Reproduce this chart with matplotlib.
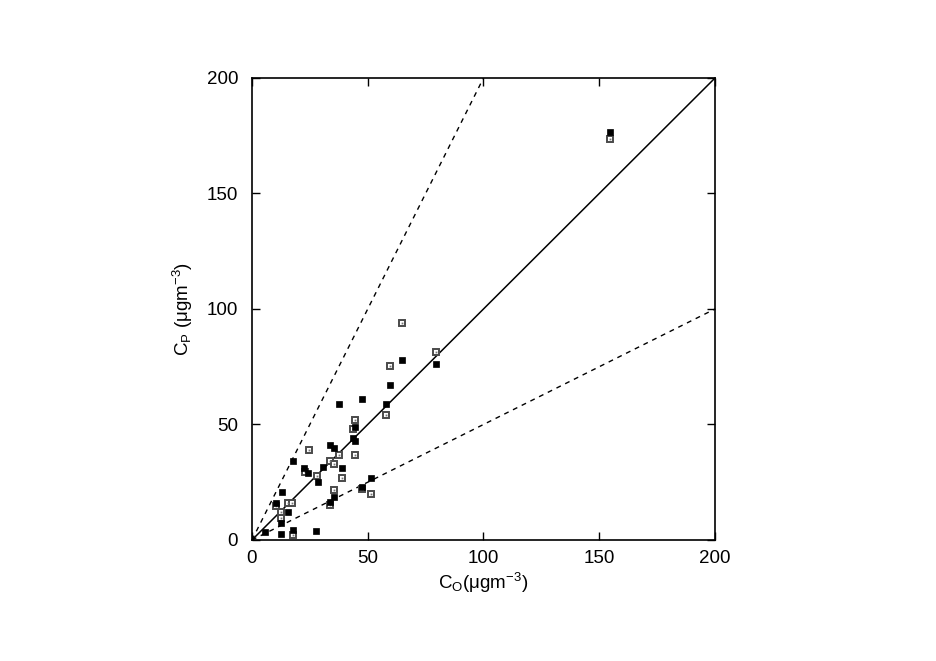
import numpy as np
import matplotlib
matplotlib.use("Agg")
import matplotlib.pyplot as plt

plt.rcParams['font.family'] = ['Liberation Sans', 'DejaVu Sans']
plt.rcParams['mathtext.fontset'] = 'custom'
plt.rcParams['mathtext.rm'] = 'Liberation Sans'
plt.rcParams['mathtext.it'] = 'Liberation Sans:italic'

# filled squares (observed vs predicted, set 1)
co_filled = [5.6, 12.5, 17.6, 27.6, 12.6, 15.5, 10.5, 12.8, 17.6, 22.5,
             24.4, 28.7, 30.5, 33.7, 35.6, 33.5, 35.4, 38.7, 37.7, 43.8,
             44.6, 44.6, 47.7, 47.7, 51.5, 57.7, 59.6, 64.7, 79.6, 154.6]
cp_filled = [3.6, 2.7, 4.4, 4.0, 7.4, 12.0, 15.8, 20.9, 34.1, 31.0,
             29.1, 25.1, 31.8, 16.4, 18.8, 41.0, 40.0, 31.0, 59.0, 44.0,
             43.0, 48.9, 61.0, 22.9, 27.0, 59.0, 67.1, 78.1, 76.2, 176.6]

# open squares (set 2)
co_open = [17.6, 12.6, 12.6, 15.5, 17.5, 10.5, 22.9, 24.7, 28.3, 33.7,
           35.6, 33.7, 35.4, 37.7, 38.7, 43.6, 44.6, 44.6, 47.7, 51.4,
           57.7, 59.6, 64.7, 79.6, 154.6]
cp_open = [2.3, 9.7, 12.1, 16.0, 16.0, 14.9, 29.6, 39.0, 27.9, 34.1,
           32.9, 15.2, 21.6, 36.8, 27.0, 48.1, 52.1, 36.8, 22.0, 19.9,
           54.0, 75.2, 94.1, 81.3, 173.6]

lims = [0, 200]

fig = plt.figure(figsize=(9.36, 6.61), dpi=100)
ax = fig.add_axes([0.2692, 0.1831, 0.4947, 0.6989])

xx = np.array(lims)
ax.plot(xx, xx, color='black', lw=1.1)
ax.plot(xx, 2 * xx, color='black', lw=1.0, dashes=(3.5, 3.5))
ax.plot(xx, 0.5 * xx, color='black', lw=1.0, dashes=(3.5, 3.5))

ax.plot(co_open, cp_open, ls='none', marker='s', ms=4.6, mfc='white',
        mec='#4a4a4a', mew=1.4)
ax.plot(co_open, cp_open, ls='none', marker='s', ms=1.3, mfc='#777777',
        mec='#777777', mew=0)
ax.plot(co_filled, cp_filled, ls='none', marker='s', ms=4.8, mfc='black',
        mec='black', mew=0.5)

ax.set_xlim(lims)
ax.set_ylim(lims)
ax.set_xticks([0, 50, 100, 150, 200])
ax.set_yticks([0, 50, 100, 150, 200])
ax.tick_params(direction='in', top=True, right=True, length=6, width=1,
               labelsize=13.5)
ax.tick_params(axis='y', pad=10)
ax.tick_params(axis='x', pad=7)
for s in ax.spines.values():
    s.set_linewidth(1.2)

ax.set_xlabel(r'C$_\mathrm{O}$(μgm$^{-3}$)', fontsize=13.5, labelpad=3)
ax.set_ylabel(r'C$_\mathrm{P}$ (μgm$^{-3}$)', fontsize=13.5, labelpad=8)

fig.savefig('out.png', dpi=100)
